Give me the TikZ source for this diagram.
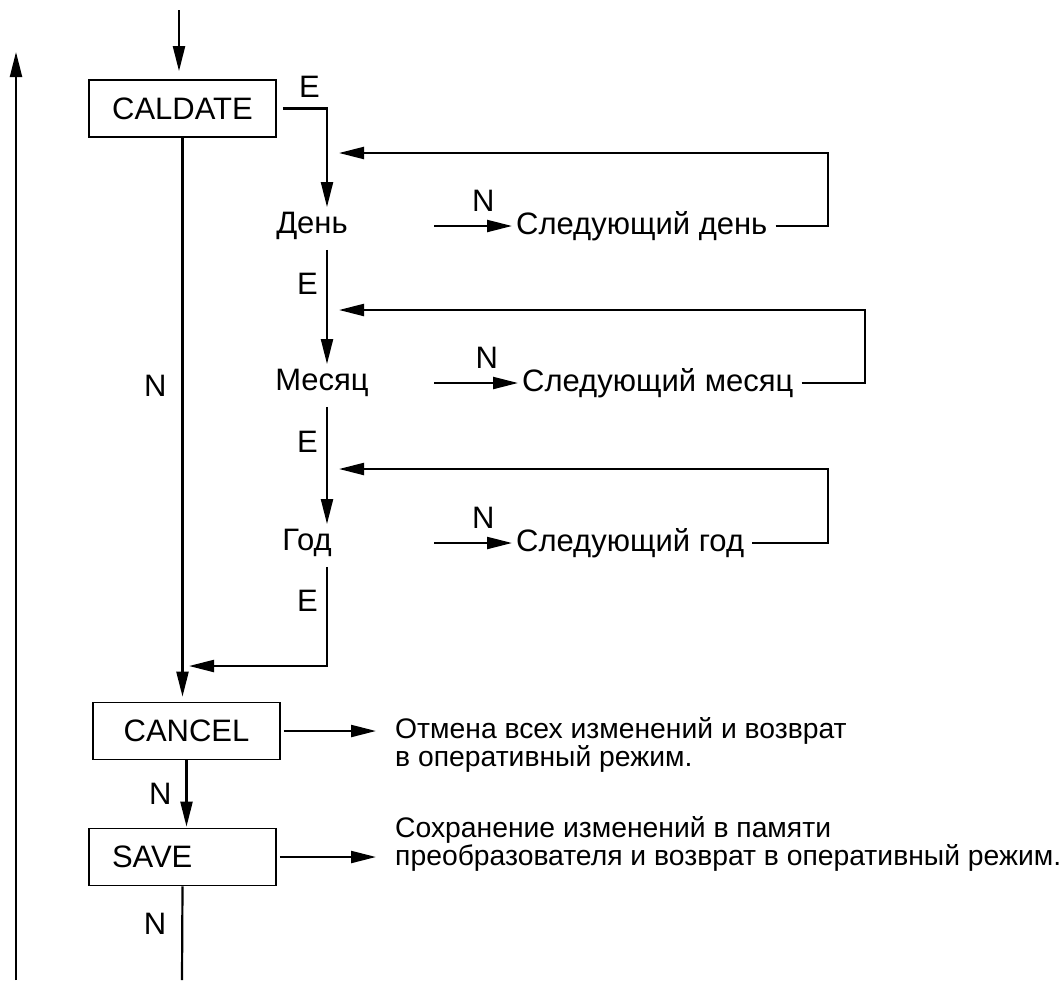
\documentclass[tikz,border=0pt]{standalone}
\usepackage{fontspec}
\setmainfont{Liberation Sans}
\usetikzlibrary{arrows.meta}
\tikzset{
  box/.style={draw,line width=1.7pt,minimum width=187pt,minimum height=57pt,inner sep=0pt,font=\fontsize{31}{31}\selectfont},
  lbl/.style={inner sep=0pt,font=\fontsize{31}{31}\selectfont},
  note/.style={inner sep=0pt,anchor=west,align=left,font=\fontsize{28.3}{24}\selectfont},
  wire/.style={line width=2.2pt},
  flow/.style={wire,-{Triangle[length=25pt,width=12pt]}},
}
\begin{document}
\begin{tikzpicture}[x=1pt,y=-1pt]
\useasboundingbox (0,0) rectangle (1064,980);
% boxes
\node[box] (caldate) at (182.5,108.5) {CALDATE};
\node[box] (cancel) at (186.5,731) {CANCEL};
\node[box,text width=141pt,align=left] (save) at (182.5,857) {SAVE};
% date fields
\node[lbl] (den) at (312,226) {День};
\node[lbl] (mes) at (322,383) {Месяц};
\node[lbl] (god) at (307,543) {Год};
\node[lbl,anchor=west] (nextden) at (516,226) {Следующий день};
\node[lbl,anchor=west] (nextmes) at (522,383) {Следующий месяц};
\node[lbl,anchor=west] (nextgod) at (516,543) {Следующий год};
% notes
\node[note] (canceltxt) at (395,745) {Отмена всех изменений и возврат\\в оперативный режим.};
\node[note] (savetxt) at (395,843.5) {Сохранение изменений в памяти\\преобразователя и возврат в оперативный режим.};
% free ends
\coordinate (col) at (327,0);
\coordinate (entry) at (179,10);
\coordinate (in1) at (339,153);
\coordinate (in2) at (339,310);
\coordinate (in3) at (339,469);
\coordinate (ret) at (189,666);
\coordinate (n1) at (434,226);
\coordinate (n2) at (434,383);
\coordinate (n3) at (434,543);
\coordinate (exit) at (182,980);
\coordinate (back0) at (16,980);
\coordinate (back1) at (16,52);

\draw[flow,shorten >=8pt] (entry) -- (entry |- caldate.north);
\draw[flow,shorten <=6pt,shorten >=5pt] (caldate.east) -| (den.north -| col)
  node[lbl,pos=0.5,anchor=south east,xshift=-6pt,yshift=10pt] {E};

\draw[flow,shorten >=4pt] (n1) -- (nextden) node[lbl,above=13pt,pos=0.6] {N};
\draw[flow,shorten <=8pt] (nextden.east) -- (nextden.east -| 828,0) |- (in1);
\draw[flow,shorten <=10pt,shorten >=5pt] (den.south -| col) -- (mes.north -| col)
  node[lbl,left=8pt,pos=0.34] {E};

\draw[flow,shorten >=4pt] (n2) -- (nextmes) node[lbl,above=13pt,pos=0.6] {N};
\draw[flow,shorten <=8pt] (nextmes.east) -- (nextmes.east -| 865,0) |- (in2);
\draw[flow,shorten <=10pt,shorten >=5pt] (mes.south -| col) -- (god.north -| col)
  node[lbl,left=8pt,pos=0.34] {E};

\draw[flow,shorten >=4pt] (n3) -- (nextgod) node[lbl,above=13pt,pos=0.6] {N};
\draw[flow,shorten <=8pt] (nextgod.east) -- (nextgod.east -| 828,0) |- (in3);
\draw[flow,shorten <=10pt] (god.south -| col) |- (ret)
  node[lbl,left=8pt,pos=0.2] {E};

\draw[flow,shorten >=5pt] (caldate.south) -- (caldate.south |- cancel.north)
  node[lbl,left=15pt,pos=0.44] {N};
\draw[flow,shorten >=1pt] (cancel.south) -- (cancel.south |- save.north)
  node[lbl,left=14pt,pos=0.5] {N};
\draw[wire] (save.south) -- (exit) node[lbl,left=15pt,pos=0.4] {N};
\draw[flow] (back0) -- (back1);

\draw[flow,shorten <=3pt,shorten >=19pt] (cancel.east) -- (cancel.east -| canceltxt.west);
\draw[flow,shorten <=3pt,shorten >=19pt] (save.east) -- (save.east -| savetxt.west);
\end{tikzpicture}
\end{document}
